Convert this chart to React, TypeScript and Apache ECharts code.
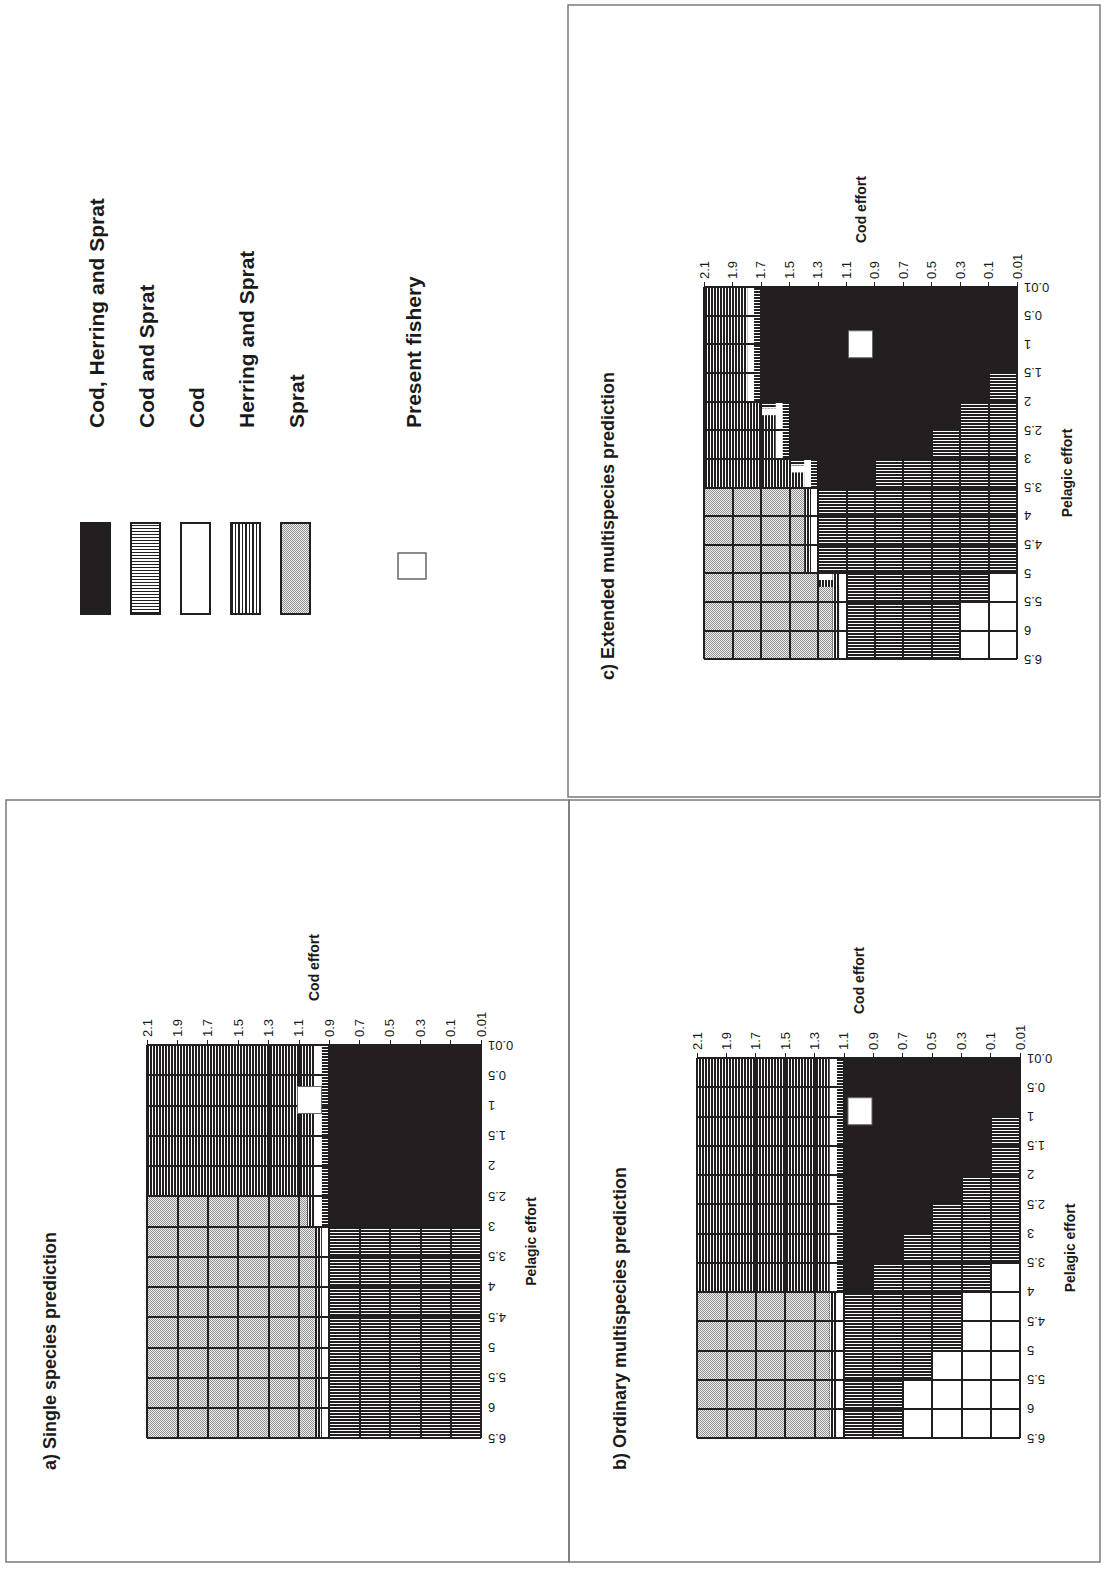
import { useEffect, useRef } from 'react';
import * as echarts from 'echarts';

// ---------------- DATA ----------------
const codEffort = ['2.1', '1.9', '1.7', '1.5', '1.3', '1.1', '0.9', '0.7', '0.5', '0.3', '0.1', '0.01'];
const pelagicEffort = ['0.01', '0.5', '1', '1.5', '2', '2.5', '3', '3.5', '4', '4.5', '5', '5.5', '6', '6.5'];

// category codes: B = Cod, Herring and Sprat; h = Cod and Sprat; w = Cod; v = Herring and Sprat; s = Sprat
const legendCodes = ['B', 'h', 'w', 'v', 's'];
const legendNames = ['Cod, Herring and Sprat', 'Cod and Sprat', 'Cod', 'Herring and Sprat', 'Sprat'];
const presentFisheryName = 'Present fishery';

const panelTitles = [
  'a) Single species prediction',
  'b) Ordinary multispecies prediction',
  'c) Extended multispecies prediction',
];
const codAxisName = 'Cod effort';
const pelagicAxisName = 'Pelagic effort';

// rows: pelagic effort cells (0.01-0.5 ... 6-6.5); columns: cod effort cells (2.1-1.9 ... 0.1-0.01)
const singleSpecies = [
  'vvvvvvBBBBB',
  'vvvvvvBBBBB',
  'vvvvvvBBBBB',
  'vvvvvvBBBBB',
  'vvvvvvBBBBB',
  'ssssssBBBBB',
  'sssssshhhhh',
  'sssssshhhhh',
  'sssssshhhhh',
  'sssssshhhhh',
  'sssssshhhhh',
  'sssssshhhhh',
  'sssssshhhhh',
];
const ordinaryMultispecies = [
  'vvvvvBBBBBB',
  'vvvvvBBBBBB',
  'vvvvvBBBBBh',
  'vvvvvBBBBBh',
  'vvvvvBBBBhh',
  'vvvvvBBBhhh',
  'vvvvvBBhhhh',
  'vvvvvBhhhhw',
  'ssssshhhhww',
  'ssssshhhhww',
  'ssssshhhwww',
  'ssssshhwwww',
  'ssssshhwwww',
];
const extendedMultispecies = [
  'vvBBBBBBBBB',
  'vvBBBBBBBBB',
  'vvBBBBBBBBB',
  'vvBBBBBBBBh',
  'vvvBBBBBBhh',
  'vvvBBBBBhhh',
  'vvvvBBhhhhh',
  'sssshhhhhhh',
  'sssshhhhhhh',
  'sssshhhhhhh',
  'ssssshhhhhw',
  'ssssshhhhww',
  'ssssshhhhww',
];
const presentFisheryCod = [1.03, 0.99, 1.0];
const presentFisheryPelagic = [0.91, 0.91, 1.0];

// ---------------- STYLE ----------------
const BLACK = '#231f20';
const FONT = '"Liberation Sans", Arial, Helvetica, sans-serif';
const STRIP = 0.24;

const svgTile = (w: number, h: number, body: string) =>
  'data:image/svg+xml;charset=utf-8,' +
  encodeURIComponent(
    `<svg xmlns="http://www.w3.org/2000/svg" width="${w}" height="${h}" shape-rendering="crispEdges">${body}</svg>`
  );
const pattern = (w: number, h: number, body: string) => ({
  image: svgTile(w, h, body), repeat: 'repeat', imageWidth: w, imageHeight: h,
});

const STIPPLE = pattern(2, 2,
  '<rect width="2" height="2" fill="#ececec"/><rect width="1" height="1" fill="#949494"/><rect x="1" y="1" width="1" height="1" fill="#949494"/>');

const FILL: Record<number, any> = {
  1: STIPPLE,
  2: pattern(3, 3, `<rect width="3" height="3" fill="#ffffff"/><rect width="2" height="3" fill="${BLACK}"/>`),
  3: '#ffffff',
  4: pattern(3, 3, `<rect width="3" height="3" fill="#ffffff"/><rect width="3" height="2" fill="${BLACK}"/>`),
  5: BLACK,
};
const LEGEND_FILL: Record<number, any> = {
  1: STIPPLE,
  2: pattern(7, 3, `<rect width="7" height="3" fill="#ffffff"/><rect width="2" height="3" fill="${BLACK}"/><rect x="4" width="1" height="3" fill="${BLACK}"/>`),
  3: '#ffffff',
  4: pattern(3, 3, `<rect width="3" height="3" fill="#ffffff"/><rect width="3" height="1" fill="${BLACK}"/>`),
  5: BLACK,
};
const BAND: Record<string, number> = { s: 1, v: 2, w: 3, h: 4, B: 5 };

const grids = [
  { left: 147, top: 1045, width: 334, height: 393 },
  { left: 697, top: 1058, width: 323, height: 380 },
  { left: 704, top: 287, width: 313, height: 372 },
];

function valueToIndex(labels: string[], v: number) {
  const nums = labels.map(Number);
  for (let i = 0; i < nums.length - 1; i++) {
    const a = nums[i], b = nums[i + 1];
    if ((v - a) * (v - b) <= 0) return i + (v - a) / (b - a);
  }
  return 0;
}

function cellData(matrix: string[]) {
  const out: number[][] = [];
  const nb = (r: number, c: number) =>
    r >= 0 && r < matrix.length && c >= 0 && c < matrix[r].length ? BAND[matrix[r][c]] : 0;
  for (let r = 0; r < matrix.length; r++) {
    for (let c = 0; c < matrix[r].length; c++) {
      out.push([c, r, BAND[matrix[r][c]], nb(r, c + 1), nb(r + 1, c), nb(r, c - 1), nb(r - 1, c)]);
    }
  }
  return out;
}

function renderCell(_params: any, api: any) {
  const c = api.value(0), r = api.value(1), b = api.value(2);
  const p0 = api.coord([c, r]);
  const p1 = api.coord([c + 1, r + 1]);
  const x0 = Math.min(p0[0], p1[0]), x1 = Math.max(p0[0], p1[0]);
  const y0 = Math.min(p0[1], p1[1]), y1 = Math.max(p0[1], p1[1]);
  const w = x1 - x0, h = y1 - y0;
  const children: any[] = [
    { type: 'rect', shape: { x: x0, y: y0, width: w + 0.3, height: h + 0.3 }, style: { fill: FILL[b] } },
  ];
  const sides: [number, string][] = [[6, 'top'], [5, 'left'], [4, 'bottom'], [3, 'right']];
  for (const [vi, side] of sides) {
    const nbBand = api.value(vi);
    if (nbBand - b > 1) {
      let n = 0;
      for (let k = nbBand - 1; k > b; k--, n++) {
        const sw = STRIP * w, sh = STRIP * h;
        let shape;
        if (side === 'right') shape = { x: x1 - (n + 1) * sw, y: y0, width: sw, height: h };
        else if (side === 'left') shape = { x: x0 + n * sw, y: y0, width: sw, height: h };
        else if (side === 'bottom') shape = { x: x0, y: y1 - (n + 1) * sh, width: w, height: sh };
        else shape = { x: x0, y: y0 + n * sh, width: w, height: sh };
        children.push({ type: 'rect', shape, style: { fill: FILL[k] } });
      }
    }
  }
  return { type: 'group', children };
}

const panels = [singleSpecies, ordinaryMultispecies, extendedMultispecies];
const titlePos = [
  { x: 50, y: 1470 },
  { x: 620, y: 1470 },
  { x: 608, y: 680 },
];
const borders = [
  { x: 6, y: 800, width: 563, height: 762 },
  { x: 569, y: 800, width: 531, height: 762 },
  { x: 568, y: 5, width: 532, height: 792 },
];

function buildOption() {
  const textColor = '#1a1a1a';
  const xAxis = grids.map((_, i) => ({
    gridIndex: i,
    type: 'value',
    min: 0,
    max: codEffort.length - 1,
    interval: 1,
    position: 'top',
    name: codAxisName,
    nameLocation: 'middle',
    nameGap: 44,
    nameRotate: 90,
    nameTextStyle: { fontSize: 14, fontWeight: 'bold', color: textColor, fontFamily: FONT },
    axisLine: { show: true, lineStyle: { color: BLACK, width: 1 } },
    axisTick: { show: true, length: 5, lineStyle: { color: BLACK, width: 1 } },
    axisLabel: {
      rotate: 90, margin: 8, fontSize: 13, color: textColor, fontFamily: FONT,
      formatter: (v: number) => codEffort[Math.round(v)] ?? '',
    },
    splitLine: { show: true, lineStyle: { color: BLACK, width: 2 } },
    z: 10,
  }));
  const yAxis = grids.map((_, i) => ({
    gridIndex: i,
    type: 'value',
    min: 0,
    max: pelagicEffort.length - 1,
    interval: 1,
    inverse: true,
    position: 'right',
    name: pelagicAxisName,
    nameLocation: 'middle',
    nameGap: 43,
    nameRotate: 90,
    nameTextStyle: { fontSize: 14, fontWeight: 'bold', color: textColor, fontFamily: FONT },
    axisLine: { show: true, lineStyle: { color: BLACK, width: 1 } },
    axisTick: { show: true, length: 5, lineStyle: { color: BLACK, width: 1 } },
    axisLabel: {
      rotate: 180, margin: 7, fontSize: 13, color: textColor, fontFamily: FONT,
      formatter: (v: number) => pelagicEffort[Math.round(v)] ?? '',
    },
    splitLine: { show: true, lineStyle: { color: BLACK, width: 2 } },
    z: 10,
  }));

  const series: any[] = [];
  panels.forEach((m, i) => {
    series.push({
      type: 'custom',
      xAxisIndex: i,
      yAxisIndex: i,
      renderItem: renderCell,
      data: cellData(m),
      silent: true,
      z: 2,
    });
    series.push({
      type: 'scatter',
      xAxisIndex: i,
      yAxisIndex: i,
      symbol: 'rect',
      symbolSize: [24, 27],
      itemStyle: { color: '#ffffff', borderColor: '#666666', borderWidth: 1, opacity: 1 },
      data: [[valueToIndex(codEffort, presentFisheryCod[i]), valueToIndex(pelagicEffort, presentFisheryPelagic[i])]],
      silent: true,
      z: 20,
    });
  });

  const elements: any[] = [];
  borders.forEach((b) =>
    elements.push({ type: 'rect', shape: b, style: { fill: 'none', stroke: '#7a7a7a', lineWidth: 1.5 }, z: 0 })
  );
  panelTitles.forEach((t, i) =>
    elements.push({
      type: 'text', x: titlePos[i].x, y: titlePos[i].y, rotation: Math.PI / 2,
      style: { text: t, fontSize: 18, fontWeight: 'bold', fontFamily: FONT, fill: textColor, align: 'left', verticalAlign: 'middle' },
    })
  );
  // legend
  legendCodes.forEach((code, i) => {
    const x = 81 + i * 50;
    elements.push({
      type: 'rect', shape: { x, y: 523, width: 29, height: 91 },
      style: { fill: LEGEND_FILL[BAND[code]], stroke: BLACK, lineWidth: 2 },
    });
    elements.push({
      type: 'text', x: x + 15, y: 428, rotation: Math.PI / 2,
      style: { text: legendNames[i], fontSize: 21, fontWeight: 'bold', fontFamily: FONT, fill: textColor, align: 'left', verticalAlign: 'middle' },
    });
  });
  elements.push({
    type: 'rect', shape: { x: 398, y: 553, width: 28, height: 26 },
    style: { fill: '#ffffff', stroke: '#666666', lineWidth: 1.5 },
  });
  elements.push({
    type: 'text', x: 413, y: 428, rotation: Math.PI / 2,
    style: { text: presentFisheryName, fontSize: 21, fontWeight: 'bold', fontFamily: FONT, fill: textColor, align: 'left', verticalAlign: 'middle' },
  });

  return {
    animation: false,
    backgroundColor: '#ffffff',
    grid: grids.map((g) => ({ ...g, containLabel: false })),
    xAxis,
    yAxis,
    series,
    graphic: { elements },
  };
}

export default function App() {
  const ref = useRef<HTMLDivElement>(null);
  useEffect(() => {
    document.body.style.margin = '0';
    const chart = echarts.init(ref.current!, undefined, { renderer: 'svg' });
    chart.setOption(buildOption() as any);
    return () => chart.dispose();
  }, []);
  return (
    <div
      ref={ref}
      style={{ position: 'absolute', left: 0, top: 0, width: 1105, height: 1574, background: '#fff' }}
    />
  );
}
